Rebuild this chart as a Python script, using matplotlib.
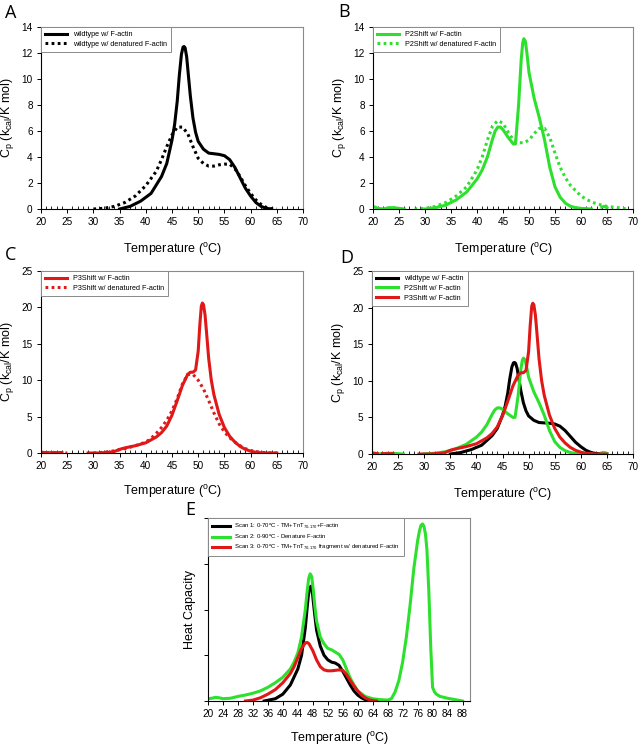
import numpy as np
import matplotlib
matplotlib.use("Agg")
import matplotlib.pyplot as plt
from matplotlib.ticker import MultipleLocator, NullFormatter

plt.rcParams['font.family'] = ['Liberation Sans', 'DejaVu Sans']
plt.rcParams['mathtext.fontset'] = 'custom'
plt.rcParams['mathtext.rm'] = 'Liberation Sans'
plt.rcParams['mathtext.it'] = 'Liberation Sans:italic'

nan = np.nan

# ---- Panel A: wildtype ----
wt_T = [35, 37, 39, 41, 43, 44, 45, 45.5, 46, 46.4, 46.8, 47.1, 47.3, 47.5, 47.8, 48.1, 48.5, 49,
        49.5, 50, 51, 52, 53, 54, 55, 56, 57, 58, 59, 60, 61, 62, 63, 64]
wt_cp = [0, 0.2, 0.6, 1.2, 2.5, 3.5, 5.3, 6.5, 8.3, 10.3, 11.9, 12.45, 12.5, 12.4, 11.7, 10.4, 8.7,
         7.0, 5.9, 5.2, 4.6, 4.3, 4.25, 4.2, 4.1, 3.8, 3.2, 2.4, 1.6, 1.0, 0.5, 0.2, 0.05, 0]
wt_den_T = [30, 32, 34, 36, 38, 40, 42, 43, 44, 45, 46, 47, 48, 49, 50, 51, 52, 53, 54, 55, 56,
            57, 58, 59, 60, 61, 62, 63, 64, 65]
wt_den_cp = [0, 0.05, 0.2, 0.5, 1.0, 1.8, 2.9, 3.8, 4.8, 5.7, 6.3, 6.3, 5.8, 4.8, 3.9, 3.5, 3.3,
             3.3, 3.4, 3.45, 3.45, 3.1, 2.5, 1.8, 1.2, 0.7, 0.35, 0.12, 0.02, 0]

# ---- Panel B: P2Shift ----
p2_T = [20, 21, 22, 23, 24, 25, 26, nan, 30, 32, 34, 36, 38, 40, 41, 42, 43, 43.5, 44, 44.5, 45,
        46, 47, 47.4, 48, 48.5, 48.8, 49, 49.3, 49.6, 50, 51, 52, 53, 54, 55, 56, 57, 58, 59, 60,
        62, nan, 64, 64.5, 65]
p2_cp = [0.2, 0.05, 0, 0.1, 0.1, 0.05, 0, nan, 0, 0.1, 0.3, 0.7, 1.3, 2.3, 3.0, 4.0, 5.4, 6.0, 6.3,
         6.3, 6.1, 5.5, 5.0, 5.0, 8.0, 11.5, 12.8, 13.1, 12.9, 12.0, 10.5, 8.5, 7.0, 5.3, 3.2, 1.7,
         0.9, 0.45, 0.2, 0.1, 0.05, 0, nan, 0.15, 0.2, 0.1]
p2_den_T = [28, 30, 32, 34, 36, 38, 40, 41, 42, 43, 44, 45, 46, 47, 48, 49, 50, 51, 52, 53, 54, 55,
            56, 57, 58, 59, 60, 61, 62, 63, 64, 65, 66, 67, 68, 69]
p2_den_cp = [0, 0.05, 0.2, 0.5, 1.0, 1.7, 3.0, 4.0, 5.3, 6.4, 6.8, 6.6, 5.9, 5.3, 5.1, 5.1, 5.3,
             5.8, 6.2, 6.2, 5.5, 4.3, 3.2, 2.4, 1.8, 1.4, 1.0, 0.75, 0.55, 0.4, 0.3, 0.2, 0.15,
             0.1, 0.05, 0]

# ---- Panel C: P3Shift ----
p3_T = [20, 21, nan, 22, 24, nan, 29, 31, 33, 34, 35, 36, 38, 40, 42, 43, 44, 45, 46, 47, 48, 48.5,
        49, 49.5, 50, 50.3, 50.6, 50.8, 51, 51.3, 51.6, 52, 52.5, 53, 54, 55, 56, 57, 58, 59, 60,
        61, 62, 63, 65]
p3_cp = [0.1, 0.05, nan, 0.05, 0.05, nan, 0, 0, 0.1, 0.2, 0.5, 0.7, 1.0, 1.4, 2.2, 2.8, 3.7, 5.2,
         7.2, 9.3, 10.8, 11.1, 11.1, 11.4, 14, 17.5, 20.2, 20.6, 20.4, 19, 16.5, 13, 10, 8, 5.3,
         3.5, 2.3, 1.5, 0.9, 0.5, 0.25, 0.1, 0.03, 0, 0]
p3_den_T = [20, 21, 22, 23, 24, 25, nan, 30, 32, 34, 36, 38, 40, 41, 42, 43, 44, 45, 46, 47, 48,
            49, 50, 51, 52, 53, 54, 55, 56, 57, 58, 59, 60, 61, 62, 63, 65]
p3_den_cp = [0.1, 0.05, 0.1, 0.05, 0.05, 0, nan, 0, 0.1, 0.3, 0.6, 1.0, 1.5, 2.0, 2.7, 3.5, 4.5,
             5.8, 7.5, 9.5, 10.8, 10.8, 10.0, 8.8, 7.2, 5.5, 4.0, 2.9, 2.1, 1.5, 1.0, 0.6, 0.35,
             0.2, 0.1, 0.05, 0]

# ---- Panel E: three scans (arbitrary units) ----
s1_T = [35, 38, 40, 42, 44, 45, 46, 46.5, 46.8, 47.2, 47.5, 47.8, 48.1, 48.5, 49, 50, 51, 52, 53,
        54, 55, 56, 57, 58, 59, 60, 61, 62, 63, 64]
s1_cp = [0, 0.05, 0.15, 0.35, 0.7, 1.0, 1.6, 2.05, 2.3, 2.48, 2.51, 2.45, 2.2, 1.9, 1.55, 1.2, 1.0,
         0.9, 0.85, 0.83, 0.78, 0.65, 0.5, 0.35, 0.22, 0.13, 0.07, 0.03, 0.01, 0]
s2_T = [20, 21, 22, 23, 24, 26, 28, 30, 32, 34, 36, 38, 40, 42, 43, 44, 45, 46, 46.5, 46.9, 47.3,
        47.7, 48.1, 48.5, 49, 50, 51, 52, 53, 54, 55, 56, 57, 58, 59, 60, 62, 64, 66, 68, 69, 70,
        71, 72, 73, 74, 75, 76, 76.5, 76.9, 77.3, 77.7, 78.1, 78.5, 79, 79.5, 80, 80.5, 81, 82, 84,
        86, 88]
s2_cp = [0.05, 0.06, 0.08, 0.07, 0.05, 0.06, 0.1, 0.13, 0.17, 0.22, 0.3, 0.4, 0.52, 0.7, 0.85, 1.05,
         1.4, 2.0, 2.4, 2.68, 2.78, 2.72, 2.45, 2.1, 1.75, 1.4, 1.25, 1.15, 1.12, 1.07, 1.02, 0.9,
         0.7, 0.5, 0.35, 0.22, 0.1, 0.05, 0.03, 0.02, 0.05, 0.2, 0.45, 0.85, 1.4, 2.1, 2.9, 3.5,
         3.72, 3.84, 3.87, 3.82, 3.65, 3.3, 2.4, 1.2, 0.3, 0.2, 0.15, 0.1, 0.06, 0.03, 0]
s3_T = [30, 32, 34, 36, 38, 40, 42, 43, 44, 45, 46, 46.5, 47, 48, 49, 50, 51, 52, 53, 54, 55, 56,
        57, 58, 59, 60, 61, 62, 63, 64, 65]
s3_cp = [0, 0.02, 0.07, 0.15, 0.25, 0.4, 0.6, 0.75, 0.95, 1.15, 1.27, 1.28, 1.25, 1.1, 0.9, 0.75,
         0.68, 0.66, 0.66, 0.67, 0.68, 0.67, 0.58, 0.45, 0.33, 0.22, 0.13, 0.07, 0.03, 0.01, 0]

GREEN = '#2ee02e'
RED = '#e01818'
DOT = (0, (0.9, 1.1))
W, H = 643, 747


def make_axes(fig, x0, x1, y0, y1):
    # pixel box -> figure fraction
    return fig.add_axes([x0 / W, 1 - y1 / H, (x1 - x0) / W, (y1 - y0) / H])


def style_axes(ax, ymax, ystep, xmin=20, xmax=70, xstep=5, minor=True, ylabels=True, xlab_off=32):
    ax.set_xlim(xmin, xmax)
    ax.set_ylim(0, ymax)
    ax.xaxis.set_major_locator(MultipleLocator(xstep))
    ax.yaxis.set_major_locator(MultipleLocator(ystep))
    if minor:
        ax.xaxis.set_minor_locator(MultipleLocator(1))
        ax.tick_params(axis='x', which='minor', direction='in', length=2, width=0.6)
    ax.tick_params(which='major', direction='out', length=3, width=0.7, labelsize=7.2, pad=3)
    ax.tick_params(axis='y', which='minor', left=False)
    if not ylabels:
        ax.yaxis.set_major_formatter(NullFormatter())
    for s in ['top', 'right']:
        ax.spines[s].set_color('#8a8a8a')
        ax.spines[s].set_linewidth(0.8)
    for s in ['left', 'bottom']:
        ax.spines[s].set_linewidth(0.8)
    ax.set_xlabel('Temperature ($^\\mathrm{o}$C)', fontsize=9)
    # label top a fixed number of pixels under the axis
    ax.xaxis.set_label_coords(0.5, -xlab_off / ax.bbox.height)


def add_legend(ax, fs=5.2):
    leg = ax.legend(loc='upper left', borderaxespad=0, fancybox=False, fontsize=fs,
                    edgecolor='#8a8a8a', framealpha=1, handlelength=3.0, handletextpad=0.8,
                    labelspacing=0.35, borderpad=0.6)
    leg.get_frame().set_linewidth(0.7)


CP_LABEL = 'C$_\\mathrm{p}$ (k$_\\mathrm{cal}$/K mol)'

fig = plt.figure(figsize=(6.43, 7.47), dpi=100)

# A
axA = make_axes(fig, 41, 303, 27, 209)
axA.plot(wt_T, wt_cp, color='black', lw=2.2, label='wildtype w/ F-actin')
axA.plot(wt_den_T, wt_den_cp, color='black', lw=2.2, ls=DOT, label='wildtype w/ denatured F-actin')
style_axes(axA, 14, 2)
axA.set_ylabel(CP_LABEL, fontsize=9)
axA.yaxis.set_label_coords(-25 / 262, 0.5)
add_legend(axA)

# B
axB = make_axes(fig, 373, 633, 27, 209)
axB.plot(p2_T, p2_cp, color=GREEN, lw=2.2, label='P2Shift w/ F-actin')
axB.plot(p2_den_T, p2_den_cp, color=GREEN, lw=2.2, ls=DOT, label='P2Shift w/ denatured F-actin')
style_axes(axB, 14, 2)
axB.set_ylabel(CP_LABEL, fontsize=9)
axB.yaxis.set_label_coords(-25 / 260, 0.5)
add_legend(axB)

# C
axC = make_axes(fig, 41, 303, 271, 453)
axC.plot(p3_T, p3_cp, color=RED, lw=2.2, label='P3Shift w/ F-actin')
axC.plot(p3_den_T, p3_den_cp, color=RED, lw=2.2, ls=DOT, label='P3Shift w/ denatured F-actin')
style_axes(axC, 25, 5, xlab_off=30)
axC.set_ylabel(CP_LABEL, fontsize=9)
axC.yaxis.set_label_coords(-25 / 262, 0.5)
add_legend(axC)

# D
axD = make_axes(fig, 372, 633, 271, 454)
axD.plot(wt_T, wt_cp, color='black', lw=2.2, label='wildtype w/ F-actin')
axD.plot(p2_T, p2_cp, color=GREEN, lw=2.2, label='P2Shift w/ F-actin')
axD.plot(p3_T, p3_cp, color=RED, lw=2.2, label='P3Shift w/ F-actin')
style_axes(axD, 25, 5)
axD.set_ylabel(CP_LABEL, fontsize=9)
axD.yaxis.set_label_coords(-25 / 261, 0.5)
add_legend(axD)

# E
axE = make_axes(fig, 208, 470, 518, 701)
axE.plot(s1_T, s1_cp, color='black', lw=2.2,
         label='Scan 1: 0-70$^\\mathrm{o}$C - TM+TnT$_\\mathrm{70\\text{-}170}$+F-actin')
axE.plot(s2_T, s2_cp, color=GREEN, lw=2.2,
         label='Scan 2: 0-90$^\\mathrm{o}$C - Denature F-actin')
axE.plot(s3_T, s3_cp, color=RED, lw=2.2,
         label='Scan 3: 0-70$^\\mathrm{o}$C - TM+TnT$_\\mathrm{70\\text{-}170}$ fragment w/ denatured F-actin')
style_axes(axE, 4, 1, xmin=20, xmax=90, xstep=4, minor=False, ylabels=False, xlab_off=29)
axE.set_ylabel('Heat Capacity', fontsize=9)
axE.yaxis.set_label_coords(-12 / 262, 0.5)
add_legend(axE, fs=4.3)

# panel letters
for letter, px, py in [('A', 5, 18), ('B', 338, 17), ('C', 5, 260), ('D', 340, 263), ('E', 185, 515)]:
    fig.text(px / W, 1 - py / H, letter, fontsize=13, family=['Open Sans', 'DejaVu Sans'],
             ha='left', va='baseline')

fig.savefig('out.png', dpi=100)
